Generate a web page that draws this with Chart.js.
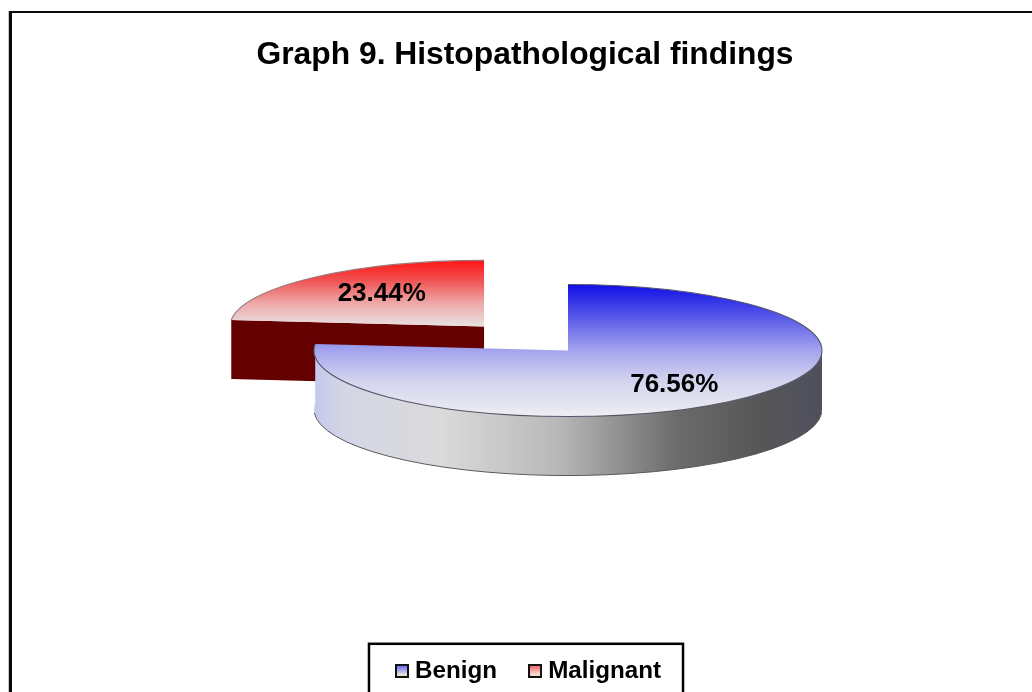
<!DOCTYPE html>
<html>
<head>
<meta charset="utf-8">
<title>Graph 9. Histopathological findings</title>
<script src="https://cdn.jsdelivr.net/npm/chart.js@4"></script>
<style>
    html, body { margin: 0; background: #fff; overflow: hidden; width: 1032px; height: 692px; }
    #marco { position: absolute; left: 9px; top: 11px; width: 1040px; height: 720px; border-left: 3px solid #0a0a0a; border-top: 2.5px solid #0a0a0a; box-shadow: -1px 0 0 #c8c8c8; }
    #grafica { position: absolute; left: 0; top: 0; }
</style>
</head>
<body>
<div id="marco"><canvas id="grafica" width="1026" height="680"></canvas></div>
<script>
const categorias = ['Benign', 'Malignant'];
const porcentajes = [76.56, 23.44];
const tituloGrafica = 'Graph 9. Histopathological findings';

// Geometria del pastel en perspectiva
const radioPastel = 254;
const inclinacion = 0.26;
const profundidad = 227;
const centroX = 556;
const centroY = 337.5;
const separacion = [0, 125];
const ajusteEtiqueta = [[21, 10], [-17, -8.5]];
const desplazaLeyenda = 6;
const fuente = '"Liberation Sans", Arial, sans-serif';

const canvas = document.getElementById('grafica');

function degradado(ctx, x0, y0, x1, y1, paradas) {
    const g = ctx.createLinearGradient(x0, y0, x1, y1);
    paradas.forEach(p => g.addColorStop(p[0], p[1]));
    return g;
}

// Color de la cara superior, en coordenadas sin aplastar
function colorCara(context) {
    const chart = context.chart;
    if (!chart.chartArea) return '#fff';
    const medio = (chart.chartArea.top + chart.chartArea.bottom) / 2;
    if (context.dataIndex === 0) {
        return degradado(chart.ctx, 0, medio - radioPastel, 0, medio + radioPastel, [
            [0, '#0f0fe6'], [0.2, '#4a4ae8'], [0.5, '#a4a4ee'], [0.72, '#d2d2ee'], [1, '#eeeef2']
        ]);
    }
    const angulo = 2 * Math.PI * (porcentajes[0] + porcentajes[1] / 2) / 100;
    const arriba = medio - Math.cos(angulo) * separacion[1] - radioPastel;
    return degradado(chart.ctx, 0, arriba, 0, arriba + radioPastel, [
        [0, '#ff1414'], [0.3, '#f05252'], [0.65, '#eea8a8'], [1, '#e8e2e2']
    ]);
}

// Muestra de la leyenda: cuadrito con borde oscuro y degradado
function crearMuestra(arriba, abajo) {
    const c = document.createElement('canvas');
    c.width = 14;
    c.height = 14;
    const m = c.getContext('2d');
    m.fillStyle = degradado(m, 0, 2, 0, 12, [[0, arriba], [1, abajo]]);
    m.fillRect(0, 0, 14, 14);
    m.strokeStyle = '#111';
    m.lineWidth = 2;
    m.strokeRect(1, 1, 12, 12);
    return c;
}
const muestras = [crearMuestra('#6c6cf0', '#f6f6e0'), crearMuestra('#f46c6c', '#f6f0e4')];

function proyectar(chart, x, y) {
    const cx = (chart.chartArea.left + chart.chartArea.right) / 2;
    const cy = (chart.chartArea.top + chart.chartArea.bottom) / 2;
    return [centroX + (x - cx), centroY + (y - cy) * inclinacion];
}

// Traza el camino actual sin la escala, para que la linea no se deforme
function trazoPlano(ctx, ancho, color) {
    ctx.save();
    ctx.setTransform(1, 0, 0, 1, 0, 0);
    ctx.lineWidth = ancho;
    ctx.strokeStyle = color;
    ctx.stroke();
    ctx.restore();
}

const pastelInclinado = {
    id: 'pastelInclinado',
    afterLayout(chart) {
        chart.legend.left += desplazaLeyenda;
        chart.legend.right += desplazaLeyenda;
    },
    // separa las porciones despues de que Chart.js calcula sus arcos
    afterDatasetsUpdate(chart) {
        chart.getDatasetMeta(0).data.forEach((arco, i) => {
            const mitad = (arco.startAngle + arco.endAngle) / 2;
            arco.x += Math.cos(mitad) * separacion[i];
            arco.y += Math.sin(mitad) * separacion[i];
        });
    },
    beforeDatasetsDraw(chart) {
        const ctx = chart.ctx;
        const cx = (chart.chartArea.left + chart.chartArea.right) / 2;
        const cy = (chart.chartArea.top + chart.chartArea.bottom) / 2;
        ctx.save();
        ctx.translate(centroX, centroY);
        ctx.scale(1, inclinacion);
        ctx.translate(-cx, -cy);

        // paredes laterales, de atras hacia adelante
        const arcos = chart.getDatasetMeta(0).data;
        for (let i = arcos.length - 1; i >= 0; i--) {
            const a = arcos[i];
            const r = a.outerRadius;
            if (a.startAngle < Math.PI) {
                const desde = Math.max(a.startAngle, 0);
                ctx.beginPath();
                ctx.arc(a.x, a.y, r, desde, a.endAngle);
                ctx.arc(a.x, a.y + profundidad, r, a.endAngle, desde, true);
                ctx.closePath();
                ctx.fillStyle = degradado(ctx, a.x - r, 0, a.x + r, 0, [
                    [0, '#c4c8ea'], [0.06, '#d4d6e6'], [0.25, '#dadada'], [0.48, '#b8b8b8'],
                    [0.72, '#6a6a6a'], [0.88, '#565658'], [1, '#50505e']
                ]);
                ctx.fill();
            } else {
                const bx = a.x + Math.cos(a.startAngle) * r;
                const by = a.y + Math.sin(a.startAngle) * r;
                ctx.beginPath();
                ctx.moveTo(bx, by);
                ctx.lineTo(a.x, a.y);
                ctx.lineTo(a.x, a.y + profundidad);
                ctx.lineTo(bx, by + profundidad);
                ctx.closePath();
                ctx.fillStyle = '#650000';
                ctx.fill();
            }
        }
    },
    afterDatasetsDraw(chart) {
        const ctx = chart.ctx;
        const arcos = chart.getDatasetMeta(0).data;

        // contornos finos de la cara superior y del borde inferior
        arcos.forEach((a, i) => {
            ctx.beginPath();
            ctx.arc(a.x, a.y, a.outerRadius, a.startAngle, a.endAngle);
            trazoPlano(ctx, 1.1, i === 0 ? '#55556a' : '#9a7a7a');
            if (i === 0) {
                ctx.beginPath();
                ctx.arc(a.x, a.y + profundidad, a.outerRadius, 0.05, Math.PI - 0.05);
                trazoPlano(ctx, 1, '#5a5a5a');
            }
        });
        ctx.restore();

        // etiquetas de porcentaje
        ctx.save();
        ctx.font = 'bold 26px ' + fuente;
        ctx.fillStyle = '#000';
        ctx.textAlign = 'center';
        ctx.textBaseline = 'middle';
        arcos.forEach((a, i) => {
            const c = a.getCenterPoint();
            const p = proyectar(chart, c.x, c.y);
            ctx.fillText(porcentajes[i].toFixed(2) + '%', p[0] + ajusteEtiqueta[i][0], p[1] + ajusteEtiqueta[i][1]);
        });
        ctx.restore();
    },
    afterDraw(chart) {
        // recuadro de la leyenda, abierto por debajo del borde de la hoja
        const ctx = chart.ctx;
        const cajas = chart.legend.legendHitBoxes;
        const ultima = cajas[cajas.length - 1];
        const izquierda = cajas[0].left + desplazaLeyenda - 38;
        const derecha = ultima.left + desplazaLeyenda + ultima.width + 16;
        ctx.save();
        ctx.strokeStyle = '#000';
        ctx.lineWidth = 2.5;
        ctx.strokeRect(izquierda, cajas[0].top - 15, derecha - izquierda, chart.height);
        ctx.restore();
    }
};

new Chart(canvas.getContext('2d'), {
    type: 'pie',
    data: {
        labels: categorias,
        datasets: [{
            data: porcentajes,
            backgroundColor: colorCara,
            borderWidth: 0,
            clip: false
        }]
    },
    options: {
        responsive: false,
        animation: false,
        radius: radioPastel,
        layout: { padding: 0 },
        plugins: {
            tooltip: { enabled: false },
            title: {
                display: true,
                text: tituloGrafica,
                color: '#000',
                font: { family: fuente, size: 31.8, weight: 'bold' },
                padding: { top: 23, bottom: 10 }
            },
            legend: {
                position: 'bottom',
                labels: {
                    color: '#000',
                    font: { family: fuente, size: 24.2, weight: 'bold' },
                    usePointStyle: true,
                    pointStyleWidth: 2,
                    boxHeight: 11,
                    padding: 37,
                    generateLabels: () => categorias.map((nombre, i) => ({
                        text: nombre,
                        pointStyle: muestras[i],
                        index: i
                    }))
                }
            }
        }
    },
    plugins: [pastelInclinado]
});
</script>
</body>
</html>
